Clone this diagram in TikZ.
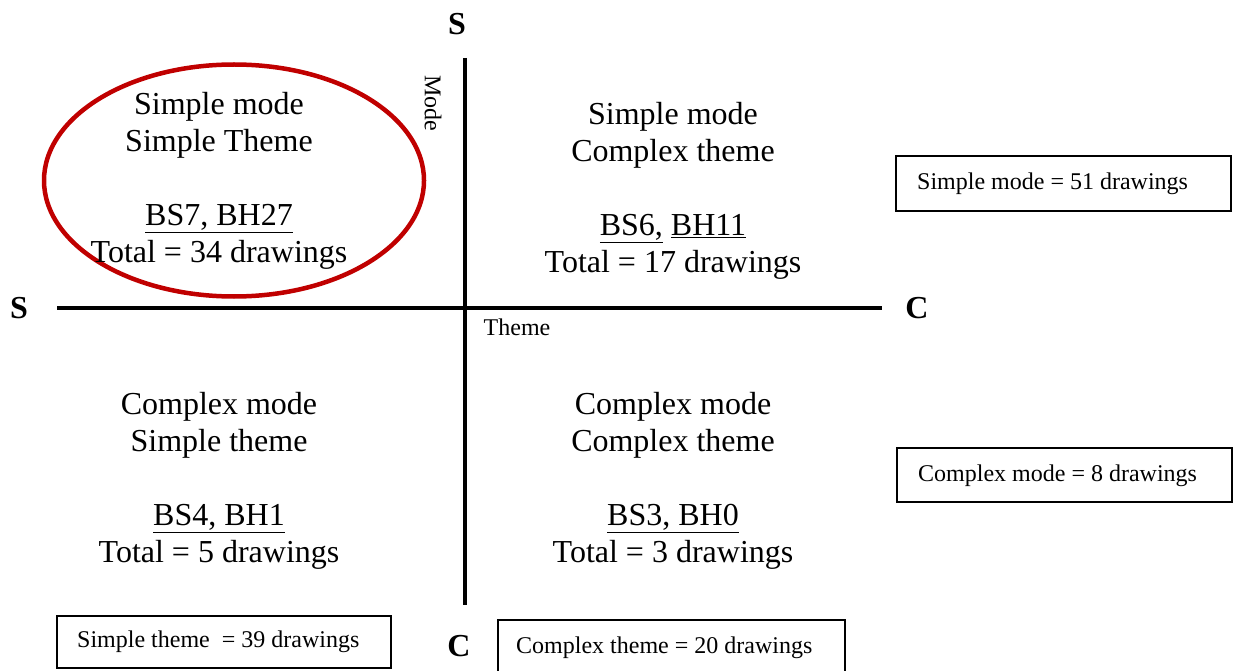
\documentclass[tikz,border=0pt]{standalone}
\usepackage{fontspec}
\setmainfont{Liberation Serif}
\definecolor{ellred}{RGB}{192,0,0}
\begin{document}
\begin{tikzpicture}[x=1pt,y=-1pt,
  axis/.style={line width=4pt},
  big/.style={font=\fontsize{32}{37}\selectfont, align=center, inner sep=0pt, anchor=north},
  lab/.style={font=\fontsize{32}{36}\selectfont\bfseries, inner sep=0pt},
  small/.style={font=\fontsize{24}{28}\selectfont, inner sep=0pt},
  box/.style={draw, line width=1.8pt, inner sep=0pt, anchor=north west}]
\useasboundingbox (0,0) rectangle (1236,671);
% axes
\coordinate (vtop) at (465,58);
\coordinate (vbot) at (465,605);
\coordinate (hleft) at (57,308);
\coordinate (hright) at (882,308);
\draw[axis] (vtop) -- (vbot);
\draw[axis] (hleft) -- (hright);
% axis end labels
\node[lab] (sT) at (457,24) {S};
\node[lab] (sL) at (19,308) {S};
\node[lab] (cR) at (917,308) {C};
\node[lab] (cB) at (459,646) {C};
\node[small, rotate=-90] (mode) at (433,103) {Mode};
\node[small] (theme) at (517,327) {Theme};
% ellipse
\draw[ellred, line width=4.5pt] (234,180.5) ellipse [x radius=190, y radius=116];
% quadrant texts
\node[big] (q1) at (219,92) {Simple mode\\Simple Theme\\ \\\underline{BS7, BH27}\\Total = 34 drawings};
\node[big] (q2) at (673,102) {Simple mode\\Complex theme\\ \\\underline{BS6,} \underline{BH11}\\Total = 17 drawings};
\node[big] (q3) at (219,392) {Complex mode\\Simple theme\\ \\\underline{BS4, BH1}\\Total = 5 drawings};
\node[big] (q4) at (673,392) {Complex mode\\Complex theme\\ \\\underline{BS3, BH0}\\Total = 3 drawings};
% boxes
\node[box, minimum width=335pt, minimum height=55pt] (b1) at (895,155) {};
\node[small, anchor=west] (t1) at (917,184) {Simple mode = 51 drawings};
\node[box, minimum width=335pt, minimum height=54pt] (b2) at (896,447) {};
\node[small, anchor=west] (t2) at (918,476) {Complex mode = 8 drawings};
\node[box, minimum width=334pt, minimum height=52pt] (b3) at (56,615) {};
\node[small, anchor=west] (t3) at (77,642) {Simple theme\ \ = 39 drawings};
\node[box, minimum width=347pt, minimum height=56pt] (b4) at (497,619) {};
\node[small, anchor=west] (t4) at (516,648) {Complex theme = 20 drawings};
\end{tikzpicture}
\end{document}
